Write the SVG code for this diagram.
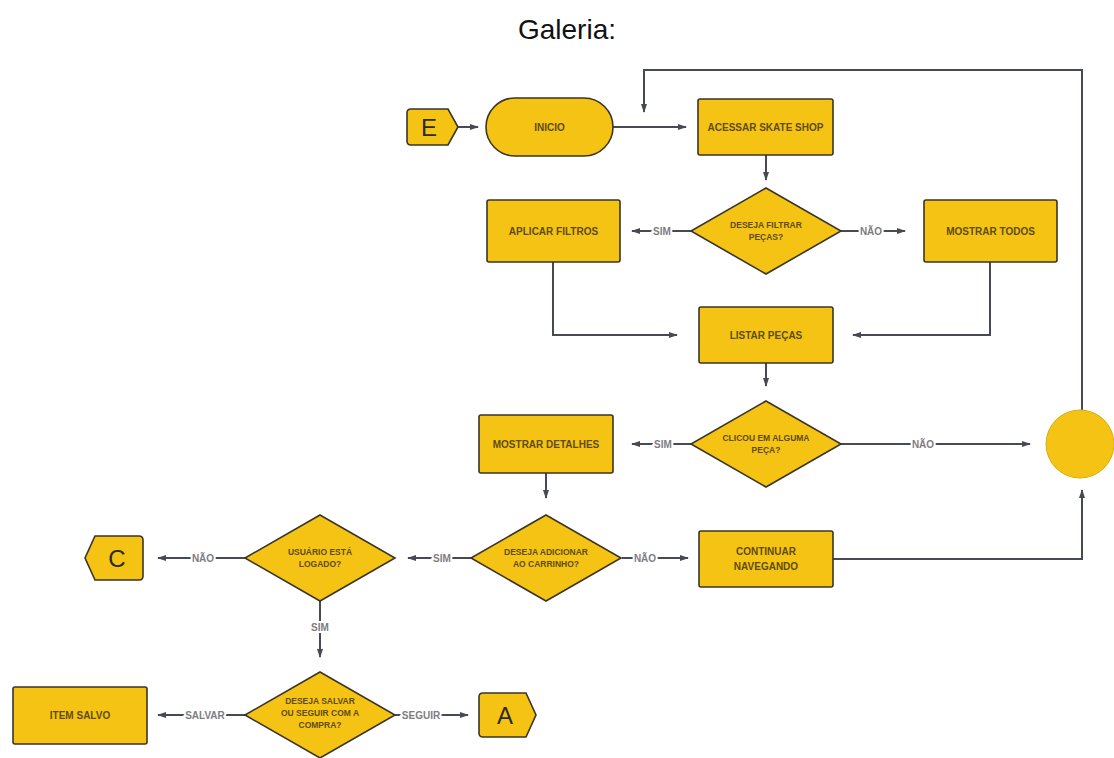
<svg xmlns="http://www.w3.org/2000/svg" width="1114" height="758" viewBox="0 0 1114 758">
<style>
.n{fill:#F5C313;stroke:#3b3527;stroke-width:1.6}
.t{font-family:"Liberation Sans",Arial,sans-serif;font-weight:bold;font-size:10px;fill:#5e4c12;text-anchor:middle}
.dt{font-family:"Liberation Sans",Arial,sans-serif;font-weight:bold;font-size:8.5px;fill:#5e4c12;text-anchor:middle}
.big{font-family:"Liberation Sans",Arial,sans-serif;font-size:24px;fill:#2b2b2b;text-anchor:middle}
.c{fill:none;stroke:#474a55;stroke-width:2}
.l{font-family:"Liberation Sans",Arial,sans-serif;font-weight:bold;font-size:10px;fill:#7d7d82;text-anchor:middle;stroke:#ffffff;stroke-width:4;paint-order:stroke}
</style>
<defs>
<marker id="ah" markerWidth="9" markerHeight="8" refX="8" refY="4" orient="auto" markerUnits="userSpaceOnUse">
<path d="M0,1 L9,4 L0,7 Z" fill="#474a55"/>
</marker>
</defs>
<rect width="1114" height="758" fill="#ffffff"/>
<text x="567" y="39" font-family="Liberation Sans, Arial, sans-serif" font-size="28" fill="#111" text-anchor="middle">Galeria:</text>

<g id="connectors">
<path class="c" d="M458,127 H478" marker-end="url(#ah)"/>
<path class="c" d="M613,127 H686" marker-end="url(#ah)"/>
<path class="c" d="M766,155 V180" marker-end="url(#ah)"/>
<path class="c" d="M691,231 H632" marker-end="url(#ah)"/>
<text class="l" x="662" y="234.5">SIM</text>
<path class="c" d="M841,231 H905" marker-end="url(#ah)"/>
<text class="l" x="871" y="234.5">NÃO</text>
<path class="c" d="M553,262 V335 H677" marker-end="url(#ah)"/>
<path class="c" d="M990,262 V335 H853" marker-end="url(#ah)"/>
<path class="c" d="M766,363 V386" marker-end="url(#ah)"/>
<path class="c" d="M691,444 H632" marker-end="url(#ah)"/>
<text class="l" x="663" y="447.5">SIM</text>
<path class="c" d="M841,444 H1030" marker-end="url(#ah)"/>
<text class="l" x="923" y="447.5">NÃO</text>
<path class="c" d="M1082,410 V70 H644 V112" marker-end="url(#ah)"/>
<path class="c" d="M546,473 V498" marker-end="url(#ah)"/>
<path class="c" d="M471,558 H408" marker-end="url(#ah)"/>
<text class="l" x="442" y="561.5">SIM</text>
<path class="c" d="M622,558 H688" marker-end="url(#ah)"/>
<text class="l" x="645" y="561.5">NÃO</text>
<path class="c" d="M833,559 H1082 V490" marker-end="url(#ah)"/>
<path class="c" d="M245,558 H158" marker-end="url(#ah)"/>
<text class="l" x="203" y="561.5">NÃO</text>
<path class="c" d="M320,601 V657" marker-end="url(#ah)"/>
<text class="l" x="320" y="630.5">SIM</text>
<path class="c" d="M245,715 H158" marker-end="url(#ah)"/>
<text class="l" x="205" y="718.5">SALVAR</text>
<path class="c" d="M394,715 H468" marker-end="url(#ah)"/>
<text class="l" x="421" y="718.5">SEGUIR</text>
</g>

<g id="E">
<path class="n" d="M411,109 L448,109 L458,127 L448,145 L411,145 Q407,145 407,141 L407,113 Q407,109 411,109 Z"/>
<text class="big" x="429" y="136">E</text>
</g>
<g id="inicio">
<rect class="n" x="486" y="98" width="127" height="58" rx="29"/>
<text class="t" x="549.5" y="130.5">INICIO</text>
</g>
<g id="acessar">
<rect class="n" x="698" y="99" width="135" height="56" rx="2"/>
<text class="t" x="765.5" y="130.5">ACESSAR SKATE SHOP</text>
</g>
<g id="d-filtrar">
<polygon class="n" points="766,188 841,231 766,274 691,231"/>
<text class="dt" x="766" y="228">DESEJA FILTRAR</text>
<text class="dt" x="766" y="240">PEÇAS?</text>
</g>
<g id="aplicar">
<rect class="n" x="487" y="200" width="133" height="62" rx="2"/>
<text class="t" x="553.5" y="234.5">APLICAR FILTROS</text>
</g>
<g id="mostrar-todos">
<rect class="n" x="924" y="200" width="133" height="62" rx="2"/>
<text class="t" x="990.5" y="234.5">MOSTRAR TODOS</text>
</g>
<g id="listar">
<rect class="n" x="699" y="307" width="134" height="56" rx="2"/>
<text class="t" x="766" y="338.5">LISTAR PEÇAS</text>
</g>
<g id="d-clicou">
<polygon class="n" points="766,401 841,444 766,487 691,444"/>
<text class="dt" x="766" y="441">CLICOU EM ALGUMA</text>
<text class="dt" x="766" y="453">PEÇA?</text>
</g>
<g id="circulo">
<circle cx="1080" cy="444" r="34" fill="#F5C313" stroke="#d9ae10" stroke-width="1"/>
</g>
<g id="mostrar-detalhes">
<rect class="n" x="479" y="415" width="134" height="58" rx="2"/>
<text class="t" x="546" y="447.5">MOSTRAR DETALHES</text>
</g>
<g id="d-adicionar">
<polygon class="n" points="546,515 621,558 546,601 471,558"/>
<text class="dt" x="546" y="555">DESEJA ADICIONAR</text>
<text class="dt" x="546" y="567">AO CARRINHO?</text>
</g>
<g id="continuar">
<rect class="n" x="699" y="531" width="134" height="56" rx="2"/>
<text class="t" x="766" y="555">CONTINUAR</text>
<text class="t" x="766" y="570">NAVEGANDO</text>
</g>
<g id="d-logado">
<polygon class="n" points="320,515 395,558 320,601 245,558"/>
<text class="dt" x="320" y="555">USUÁRIO ESTÁ</text>
<text class="dt" x="320" y="567">LOGADO?</text>
</g>
<g id="C">
<path class="n" d="M95,536 L139,536 Q143,536 143,540 L143,576 Q143,580 139,580 L95,580 L85,558 Z"/>
<text class="big" x="117" y="567">C</text>
</g>
<g id="d-salvar">
<polygon class="n" points="320,672 395,715 320,758 245,715"/>
<text class="dt" x="320" y="704">DESEJA SALVAR</text>
<text class="dt" x="320" y="716">OU SEGUIR COM A</text>
<text class="dt" x="320" y="728">COMPRA?</text>
</g>
<g id="item-salvo">
<rect class="n" x="13" y="687" width="134" height="57" rx="2"/>
<text class="t" x="80" y="719">ITEM SALVO</text>
</g>
<g id="A">
<path class="n" d="M483,693 L526,693 L536,715 L526,737 L483,737 Q479,737 479,733 L479,697 Q479,693 483,693 Z"/>
<text class="big" x="505" y="724">A</text>
</g>
</svg>
